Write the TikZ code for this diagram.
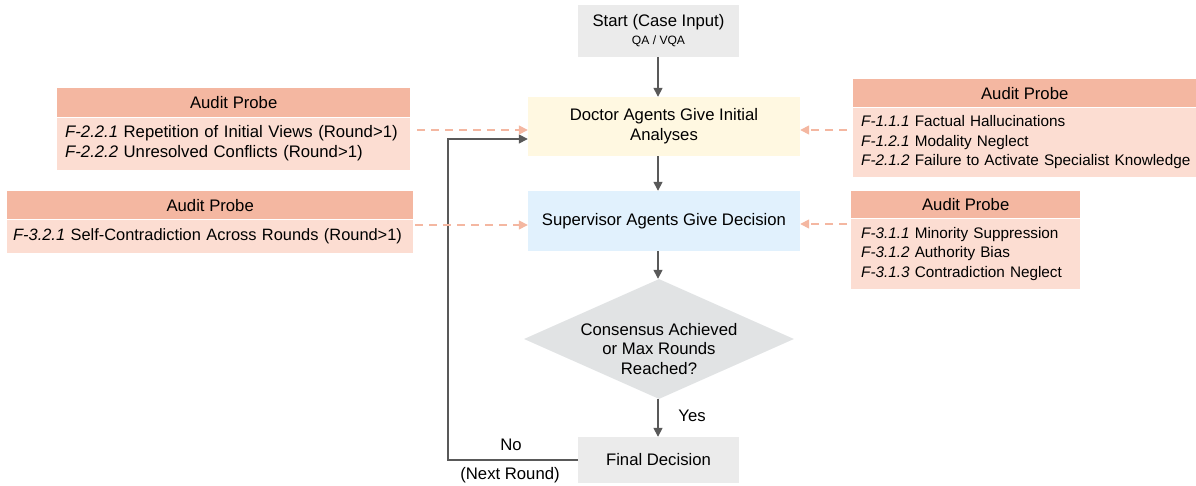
\documentclass[tikz,border=0pt]{standalone}
\usepackage{fontspec}
\setmainfont{Liberation Sans}
\usetikzlibrary{shapes.geometric,arrows.meta}
\definecolor{hdr}{HTML}{F4B7A1}
\definecolor{bdy}{HTML}{FCDDD2}
\definecolor{gbox}{HTML}{EBEBEB}
\definecolor{cream}{HTML}{FFF8E1}
\definecolor{lblue}{HTML}{E1F1FD}
\definecolor{dia}{HTML}{E1E3E4}
\definecolor{ln}{HTML}{595959}
\definecolor{dsh}{HTML}{F4B7A1}
\begin{document}
\begin{tikzpicture}[x=1pt,y=-1pt,
  font=\fontsize{16.7}{20}\selectfont,
  flowbox/.style={inner sep=0pt, align=center},
  phead/.style={fill=hdr, inner sep=0pt, anchor=north west},
  pbody/.style={fill=bdy, inner xsep=8pt, inner ysep=0pt, align=left, anchor=north west},
  rfont/.style={font=\fontsize{15.3}{19.5}\selectfont},
  flow/.style={draw=ln, line width=1.5pt, -{Triangle[length=9pt,width=9pt]}},
  probe/.style={draw=dsh, line width=1.5pt, dash pattern=on 8pt off 6pt, -{Triangle[length=9pt,width=9pt]}},
  lbl/.style={inner sep=0pt}]
\useasboundingbox (0,0) rectangle (1196,486);

% main flow
\node[flowbox, fill=gbox, minimum width=161pt, minimum height=52pt] (start) at (658.5,31)
  {Start (Case Input)\\[-2pt]{\fontsize{12.1}{14}\selectfont QA / VQA}};
\node[flowbox, fill=cream, minimum width=272pt, minimum height=59pt] (doc) at (664,126.5)
  {Doctor Agents Give Initial\\Analyses};
\node[flowbox, fill=lblue, minimum width=272pt, minimum height=60pt] (sup) at (664,221)
  {Supervisor Agents Give Decision};
\node[diamond, fill=dia, inner sep=0pt, minimum width=270pt, minimum height=120pt] (dec) at (659,339) {};
\node[flowbox, font=\fontsize{16.7}{19.5}\selectfont] (dectxt) at (659,349) {Consensus Achieved\\or Max Rounds\\Reached?};
\node[flowbox, fill=gbox, minimum width=161pt, minimum height=46pt] (fin) at (658.5,460) {Final Decision};

\coordinate (s1) at (658,0);
\draw[flow] (start.south -| s1) -- (doc.north -| s1);
\draw[flow] (doc.south -| s1) -- (sup.north -| s1);
\draw[flow] (sup.south -| s1) -- (dec.north -| s1);
\draw[flow] (dec.south -| s1) -- (fin.north -| s1);
\node[lbl] (yes) at (692,416) {Yes};

\coordinate (loopx) at (448,0);
\coordinate (loopy) at (0,139);
\draw[flow] (fin.west) -- (fin.west -| loopx) -- (loopx |- loopy) -- (doc.west |- loopy);
\node[lbl] (no) at (511,445) {No};
\node[lbl] (next) at (510,475) {(Next Round)};

% probe left 1
\node[phead, minimum width=353pt, minimum height=29pt] (l1h) at (57,88) {Audit Probe};
\node[pbody, text width=337pt, minimum height=52pt] (l1b) at (l1h.south west)
  {\textit{F-2.2.1} Repetition of Initial Views (Round>1)\\\textit{F-2.2.2} Unresolved Conflicts (Round>1)};
% probe right 1
\node[phead, minimum width=343pt, minimum height=28pt] (r1h) at (853,79) {Audit Probe};
\node[pbody, rfont, text width=327pt, minimum height=69pt] (r1b) at (r1h.south west)
  {\mbox{\textit{F-1.1.1} Factual Hallucinations}\\\mbox{\textit{F-1.2.1} Modality Neglect}\\\mbox{\textit{F-2.1.2} Failure to Activate Specialist Knowledge}};
% probe left 2
\node[phead, minimum width=406pt, minimum height=28pt] (l2h) at (7,191) {Audit Probe};
\node[pbody, font=\fontsize{16.4}{20}\selectfont, inner xsep=6pt, text width=394pt, minimum height=33pt] (l2b) at (l2h.south west)
  {\textit{F-3.2.1} Self-Contradiction Across Rounds (Round>1)};
% probe right 2
\node[phead, minimum width=229pt, minimum height=27pt] (r2h) at (851,191) {Audit Probe};
\node[pbody, rfont, inner xsep=10pt, text width=209pt, minimum height=70pt] (r2b) at (r2h.south west)
  {\textit{F-3.1.1} Minority Suppression\\\textit{F-3.1.2} Authority Bias\\\textit{F-3.1.3} Contradiction Neglect};

\coordinate (a1) at (0,130);
\coordinate (a2) at (0,130);
\coordinate (a3) at (0,225);
\coordinate (a4) at (0,224);
\draw[probe] (l1b.east |- a1) ++(7,0) -- (doc.west |- a1);
\draw[probe] (r1b.west |- a2) ++(-6,0) -- (doc.east |- a2);
\draw[probe] (l2b.east |- a3) ++(2,0) -- (sup.west |- a3);
\draw[probe] (r2b.west |- a4) ++(-4,0) -- (sup.east |- a4);
\end{tikzpicture}
\end{document}
